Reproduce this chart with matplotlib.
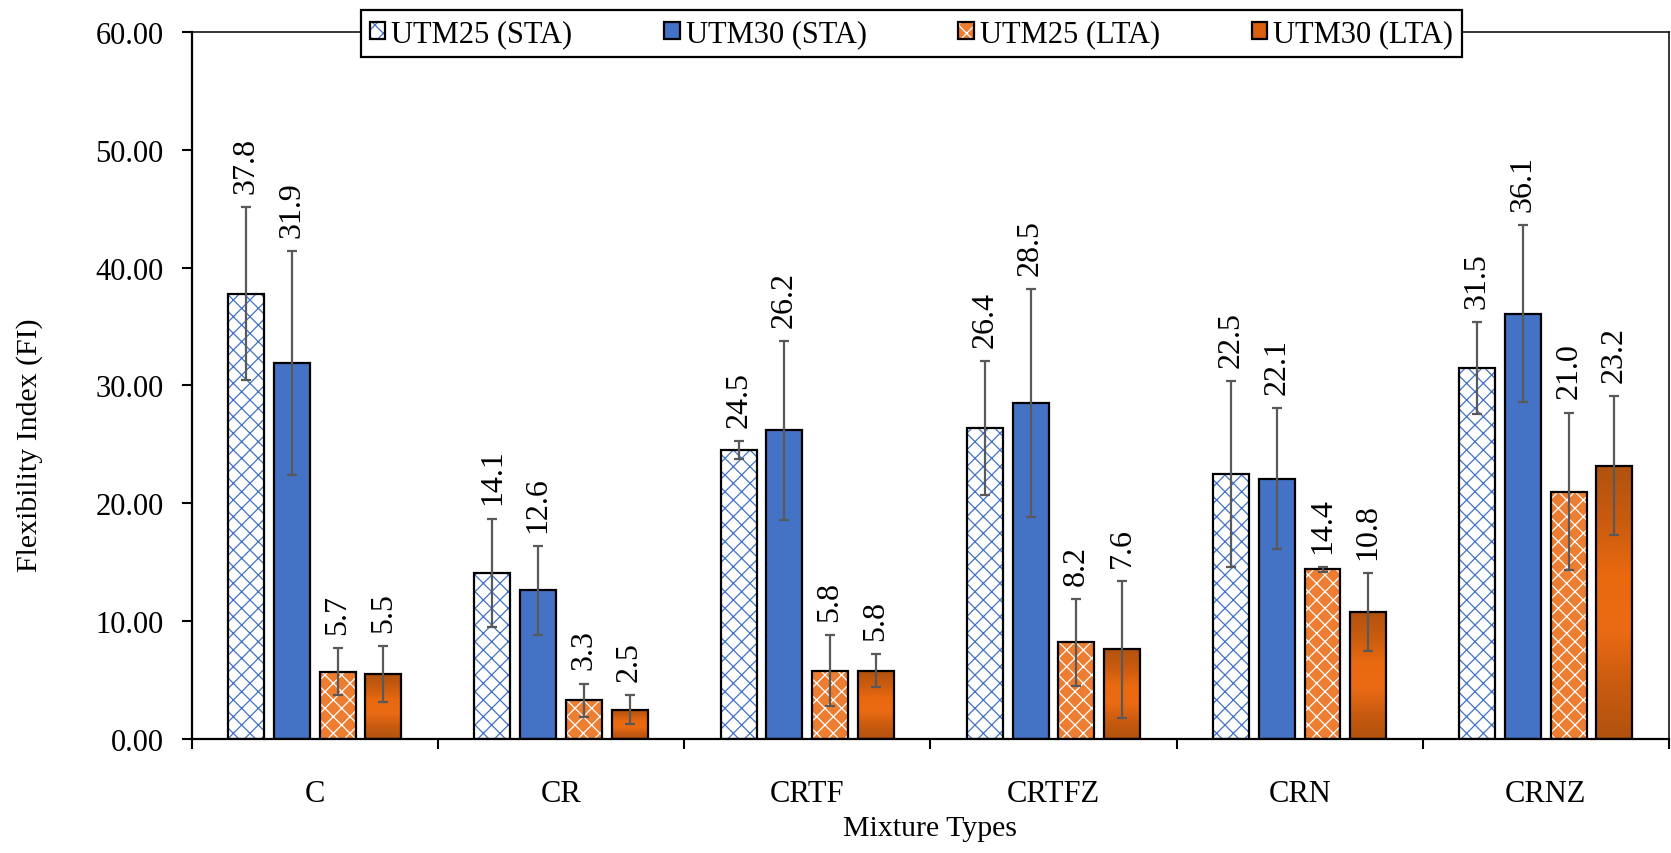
import numpy as np
import matplotlib
matplotlib.use('Agg')
import matplotlib.pyplot as plt
from matplotlib.colors import LinearSegmentedColormap
from matplotlib.patches import Patch

# ── data ────────────────────────────────────────────────────────────────────
mixtures = ['C', 'CR', 'CRTF', 'CRTFZ', 'CRN', 'CRNZ']
series   = ['UTM25 (STA)', 'UTM30 (STA)', 'UTM25 (LTA)', 'UTM30 (LTA)']

utm25_sta = [37.8, 14.1, 24.5, 26.4, 22.5, 31.5]
utm30_sta = [31.9, 12.6, 26.2, 28.5, 22.1, 36.1]
utm25_lta = [5.7, 3.3, 5.8, 8.2, 14.4, 21.0]
utm30_lta = [5.5, 2.5, 5.8, 7.6, 10.8, 23.2]

err25_sta = [7.3, 4.6, 0.75, 5.7, 7.9, 3.9]
err30_sta = [9.5, 3.8, 7.6, 9.7, 6.0, 7.5]
err25_lta = [2.0, 1.4, 3.0, 3.7, 0.2, 6.7]
err30_lta = [2.4, 1.2, 1.4, 5.8, 3.3, 5.9]

yticks = [0, 10, 20, 30, 40, 50, 60]

# ── style ───────────────────────────────────────────────────────────────────
plt.rcParams['font.family'] = ['Liberation Serif', 'DejaVu Serif']
plt.rcParams['hatch.linewidth'] = 0.9

BLUE   = '#4472C4'
ORANGE = '#ED7D31'
ERRC   = '#595959'
grad_cmap = LinearSegmentedColormap.from_list(
    'grad', ['#B0520F', '#C95B10', '#EB6B14', '#E9690F', '#C95B10', '#B0520F'])

FS_TICK  = 22
FS_AXLAB = 21.5
FS_DATA  = 23
FS_LEG   = 22
PITCH = 0.1856
WIDTH = 0.146

fig = plt.figure(figsize=(16.71, 8.54), dpi=100, facecolor='white')
ax = fig.add_axes([0.1147, 0.1335, 0.8841, 0.828])

x = np.arange(len(mixtures))
vals = [utm25_sta, utm30_sta, utm25_lta, utm30_lta]
errs = [err25_sta, err30_sta, err25_lta, err30_lta]

for i, (v, e) in enumerate(zip(vals, errs)):
    xs = x + (i - 1.5) * PITCH
    if i == 0:
        ax.bar(xs, v, WIDTH, color='white', lw=0, zorder=2)
        ax.bar(xs, v, WIDTH, color='none', edgecolor=BLUE, hatch='xx', lw=0, zorder=2.1)
    elif i == 1:
        ax.bar(xs, v, WIDTH, color=BLUE, lw=0, zorder=2)
    elif i == 2:
        ax.bar(xs, v, WIDTH, color=ORANGE, lw=0, zorder=2)
        ax.bar(xs, v, WIDTH, color='none', edgecolor='white', hatch='xx', lw=0, zorder=2.1)
    else:
        bars = ax.bar(xs, v, WIDTH, color='none', lw=0, zorder=2)
        grad = np.linspace(0, 1, 256).reshape(-1, 1)
        for b in bars:
            x0, w, h = b.get_x(), b.get_width(), b.get_height()
            im = ax.imshow(grad, cmap=grad_cmap, aspect='auto',
                           extent=[x0, x0 + w, 0, h], origin='lower', zorder=2)
            im.set_clip_path(b)
    ax.bar(xs, v, WIDTH, color='none', edgecolor='black', lw=1.6, zorder=3)
    ax.errorbar(xs, v, yerr=e, fmt='none', ecolor=ERRC, elinewidth=1.6,
                capsize=3.6, capthick=1.6, zorder=4)
    for xi, vi, ei in zip(xs, v, e):
        ax.text(xi, vi + ei + 1.2, f'{vi:.1f}', rotation=90, ha='center',
                va='bottom', fontsize=FS_DATA, zorder=5)

# ── axes ────────────────────────────────────────────────────────────────────
ax.set_xlim(-0.5, len(mixtures) - 0.5)
ax.set_ylim(0, 60)
ax.set_yticks(yticks)
ax.set_yticklabels([f'{t:.2f}' for t in yticks], fontsize=FS_TICK)
ax.set_xticks(x)
ax.set_xticklabels(mixtures, fontsize=FS_TICK)
ax.set_xticks(np.arange(-0.5, len(mixtures)), minor=True)
ax.tick_params(axis='x', which='major', length=0, pad=29)
ax.tick_params(axis='x', which='minor', length=7.2, width=1.5, direction='out')
ax.tick_params(axis='y', length=7.2, width=1.5, direction='out', pad=13)
ax.autoscale(False)

for s in ['left', 'bottom']:
    ax.spines[s].set_linewidth(1.6)
for s in ['top', 'right']:
    ax.spines[s].set_linewidth(1.1)

ax.set_ylabel('Flexibility Index (FI)', fontsize=FS_AXLAB)
ax.yaxis.set_label_coords(-0.1007, 0.417)
ax.set_xlabel('Mixture Types', fontsize=FS_AXLAB)
ax.xaxis.set_label_coords(0.5, -0.108)

# ── legend ──────────────────────────────────────────────────────────────────
handles = [
    Patch(facecolor='white', edgecolor=BLUE, hatch='xx', lw=0),
    Patch(facecolor=BLUE),
    Patch(facecolor=ORANGE, edgecolor='white', hatch='xx', lw=0),
    Patch(facecolor='#D9600F'),
]
outline = [Patch(facecolor='none', edgecolor='black', lw=1.6) for _ in handles]
leg = fig.legend([(h, o) for h, o in zip(handles, outline)], series,
                 loc='center', bbox_to_anchor=(911.5 / 1671, 1 - 34.75 / 854),
                 ncol=4, fontsize=FS_LEG, frameon=True, fancybox=False,
                 framealpha=1, edgecolor='black', handlelength=0.5,
                 handleheight=0.5, handletextpad=0.2, columnspacing=3.0,
                 borderpad=0.3)
leg.get_frame().set_linewidth(1.6)

fig.savefig('out.png', dpi=100, facecolor='white')
